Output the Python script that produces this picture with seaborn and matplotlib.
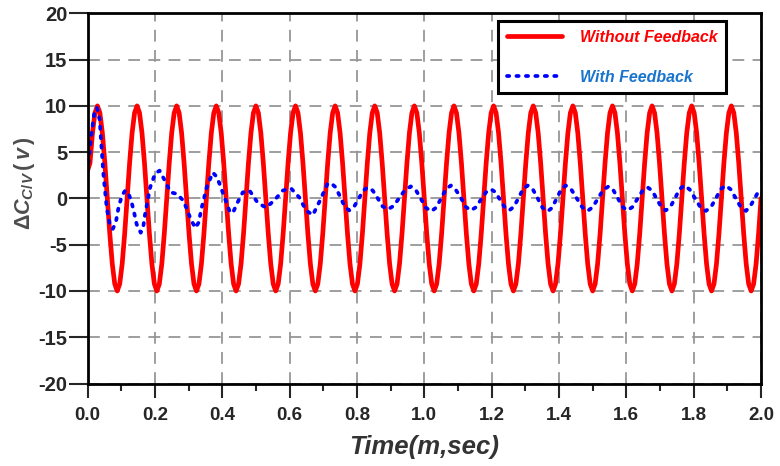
import numpy as np
import pandas as pd
import matplotlib
matplotlib.use("Agg")
import matplotlib.pyplot as plt
import seaborn as sns
from matplotlib.ticker import FormatStrFormatter, MultipleLocator

# Without feedback: one sample every 1/16 of a cycle
red_values = [
    3.0, 3.83, 7.07, 9.24, 10, 9.24, 7.07, 3.83, 0, -3.83, -7.07, -9.24, -10, -9.24, -7.07, -3.83,
    0, 3.83, 7.07, 9.24, 10, 9.24, 7.07, 3.83, 0, -3.83, -7.07, -9.24, -10, -9.24, -7.07, -3.83,
    0, 3.83, 7.07, 9.24, 10, 9.24, 7.07, 3.83, 0, -3.83, -7.07, -9.24, -10, -9.24, -7.07, -3.83,
    0, 3.83, 7.07, 9.24, 10, 9.24, 7.07, 3.83, 0, -3.83, -7.07, -9.24, -10, -9.24, -7.07, -3.83,
    0, 3.83, 7.07, 9.24, 10, 9.24, 7.07, 3.83, 0, -3.83, -7.07, -9.24, -10, -9.24, -7.07, -3.83,
    0, 3.83, 7.07, 9.24, 10, 9.24, 7.07, 3.83, 0, -3.83, -7.07, -9.24, -10, -9.24, -7.07, -3.83,
    0, 3.83, 7.07, 9.24, 10, 9.24, 7.07, 3.83, 0, -3.83, -7.07, -9.24, -10, -9.24, -7.07, -3.83,
    0, 3.83, 7.07, 9.24, 10, 9.24, 7.07, 3.83, 0, -3.83, -7.07, -9.24, -10, -9.24, -7.07, -3.83,
    0, 3.83, 7.07, 9.24, 10, 9.24, 7.07, 3.83, 0, -3.83, -7.07, -9.24, -10, -9.24, -7.07, -3.83,
    0, 3.83, 7.07, 9.24, 10, 9.24, 7.07, 3.83, 0, -3.83, -7.07, -9.24, -10, -9.24, -7.07, -3.83,
    0, 3.83, 7.07, 9.24, 10, 9.24, 7.07, 3.83, 0, -3.83, -7.07, -9.24, -10, -9.24, -7.07, -3.83,
    0, 3.83, 7.07, 9.24, 10, 9.24, 7.07, 3.83, 0, -3.83, -7.07, -9.24, -10, -9.24, -7.07, -3.83,
    0, 3.83, 7.07, 9.24, 10, 9.24, 7.07, 3.83, 0, -3.83, -7.07, -9.24, -10, -9.24, -7.07, -3.83,
    0, 3.83, 7.07, 9.24, 10, 9.24, 7.07, 3.83, 0, -3.83, -7.07, -9.24, -10, -9.24, -7.07, -3.83,
    0, 3.83, 7.07, 9.24, 10, 9.24, 7.07, 3.83, 0, -3.83, -7.07, -9.24, -10, -9.24, -7.07, -3.83,
    0, 3.83, 7.07, 9.24, 10, 9.24, 7.07, 3.83, 0, -3.83, -7.07, -9.24, -10, -9.24, -7.07, -3.83,
    0, 3.83, 7.07, 9.24, 10, 9.24, 7.07, 3.83, 0, -3.83, -7.07, -9.24, -10, -9.24, -7.07, -3.83,
    0,
]
red_time = np.linspace(0.0, 2.0, len(red_values))

# With feedback
blue_time = [
    0.000, 0.010, 0.020, 0.028, 0.036, 0.047, 0.057, 0.066, 0.075, 0.084,
    0.092, 0.102, 0.112, 0.121, 0.130, 0.137, 0.146, 0.158, 0.165, 0.171,
    0.186, 0.201, 0.214, 0.230, 0.247, 0.265, 0.285, 0.305, 0.320, 0.330,
    0.339, 0.354, 0.372, 0.382, 0.392, 0.407, 0.421, 0.431, 0.446, 0.461,
    0.481, 0.505, 0.530, 0.555, 0.580, 0.604, 0.629, 0.649, 0.669, 0.688,
    0.713, 0.723, 0.737, 0.750, 0.764, 0.777, 0.791, 0.805, 0.818, 0.832,
    0.847, 0.862, 0.876, 0.891, 0.908, 0.926, 0.943, 0.960, 0.975, 0.990,
    1.005, 1.020, 1.035, 1.050, 1.064, 1.079, 1.094, 1.109, 1.123, 1.138,
    1.153, 1.168, 1.183, 1.198, 1.212, 1.225, 1.239, 1.252, 1.266, 1.280,
    1.293, 1.307, 1.322, 1.337, 1.351, 1.366, 1.380, 1.393, 1.407, 1.420,
    1.436, 1.453, 1.469, 1.485, 1.500, 1.516, 1.531, 1.547, 1.561, 1.575,
    1.589, 1.603, 1.618, 1.633, 1.648, 1.663, 1.677, 1.690, 1.704, 1.717,
    1.731, 1.745, 1.758, 1.772, 1.788, 1.804, 1.820, 1.836, 1.851, 1.866,
    1.880, 1.895, 1.910, 1.925, 1.940, 1.955, 1.967, 1.978, 1.990, 2.000,
]
blue_values = [
    2.8, 6.5, 9.2, 9.8, 8.5, 2.7, -1.0, -2.8, -3.3, -2.6,
    -1.0, 0.3, 0.85, 0.6, -0.3, -1.3, -2.8, -3.7, -3.2, -1.7,
    1.2, 2.7, 3.0, 1.9, 0.65, 0.5, -0.25, -2.1, -3.2, -2.6,
    -1.0, 1.2, 2.8, 2.4, 1.6, 0.1, -1.3, -1.6, -0.4, 0.65,
    0.85, -0.45, -1.0, -0.2, 0.85, 1.1, 0.1, -1.3, -1.8, -0.4,
    1.6, 1.65, 1.2, 0.2, -0.9, -1.3, -0.93, -0.05, 0.83, 1.2,
    0.85, 0.0, -0.85, -1.2, -0.83, 0.05, 0.93, 1.3, 0.9, -0.05,
    -1.0, -1.4, -1.0, 0.0, 1.0, 1.4, 0.9, 0.05, -0.9, -1.3,
    -0.96, -0.15, 0.66, 1.0, 0.66, -0.15, -0.96, -1.3, -0.9, 0.05,
    1.0, 1.4, 1.0, 0.0, -1.0, -1.4, -1.0, 0.0, 1.0, 1.4,
    1.0, 0.0, -0.95, -1.35, -0.95, 0.0, 0.9, 1.3, 0.92, 0.0,
    -0.92, -1.3, -0.93, -0.05, 0.83, 1.2, 0.83, -0.05, -0.93, -1.3,
    -0.9, 0.05, 1.0, 1.4, 0.97, 0.0, -0.95, -1.35, -0.95, 0.0,
    1.0, 1.4, 0.97, 0.0, -0.95, -1.35, -0.9, -0.2, 0.6, 1.0,
]

x_ticks = [0.0, 0.2, 0.4, 0.6, 0.8, 1.0, 1.2, 1.4, 1.6, 1.8, 2.0]
y_ticks = [-20, -15, -10, -5, 0, 5, 10, 15, 20]
series_names = ["Without Feedback", "With Feedback"]

sns.set_style("ticks")
plt.rcParams["font.family"] = ["Liberation Sans", "DejaVu Sans"]
plt.rcParams["mathtext.fontset"] = "custom"
plt.rcParams["mathtext.rm"] = "Liberation Sans:bold"
plt.rcParams["mathtext.it"] = "Liberation Sans:italic:bold"
plt.rcParams["mathtext.bf"] = "Liberation Sans:bold"
plt.rcParams["lines.scale_dashes"] = False

red_df = pd.DataFrame({"time": red_time, "value": red_values})
blue_df = pd.DataFrame({"time": blue_time, "value": blue_values})

fig = plt.figure(figsize=(7.8, 4.66), dpi=100)
ax = fig.add_axes([0.1122, 0.177, 0.8635, 0.7944])

sns.lineplot(data=red_df, x="time", y="value", ax=ax, color="#ff0000", lw=3.4,
             estimator=None, sort=False, label=series_names[0])
sns.lineplot(data=blue_df, x="time", y="value", ax=ax, color="#0000ff", lw=2.7,
             linestyle=(0, (1.6, 5.2)), dash_capstyle="round",
             estimator=None, sort=False, label=series_names[1])

ax.set_xlim(0, 2.0)
ax.set_ylim(-20, 20)
ax.set_xticks(x_ticks)
ax.set_yticks(y_ticks)
ax.xaxis.set_minor_locator(MultipleLocator(0.1))
ax.xaxis.set_major_formatter(FormatStrFormatter("%.1f"))
ax.yaxis.set_major_formatter(FormatStrFormatter("%d"))

ax.set_axisbelow(True)
ax.grid(True, which="major", color="#969696", lw=1.3, linestyle=(0, (8.5, 6)))

for side in ["left", "right", "top", "bottom"]:
    ax.spines[side].set_visible(True)
    ax.spines[side].set_color("black")
    ax.spines[side].set_linewidth(2.0)

ax.tick_params(axis="x", which="major", direction="out", length=10, width=1.5,
               pad=7, labelsize=13.5)
ax.tick_params(axis="x", which="minor", direction="out", length=5, width=1.5)
ax.tick_params(axis="y", which="major", direction="out", length=13.5, width=1.5,
               pad=1, labelsize=14.5)
for lbl in ax.get_xticklabels() + ax.get_yticklabels():
    lbl.set_fontweight("bold")

ax.set_xlabel("Time(m,sec)", fontsize=18.5, fontstyle="italic", fontweight="bold",
              color="#333333", labelpad=8)
ax.set_ylabel("")
fig.text(25 / 780, 1 - 183 / 466, r"$\Delta C_{C/V}\,(\,v\,)$", rotation=90,
         ha="center", va="center", fontsize=15.5, color="#4d4d4d")

handles, labels = ax.get_legend_handles_labels()
leg = ax.legend(handles, labels, loc="upper left", bbox_to_anchor=(0.6095, 0.979),
                borderaxespad=0, frameon=True, fancybox=False, framealpha=1,
                edgecolor="black", handlelength=3.45, handletextpad=1.12,
                labelspacing=1.55, borderpad=0.55,
                prop={"size": 11.5, "weight": "bold", "style": "italic"})
leg.get_frame().set_linewidth(2.2)
for txt, col in zip(leg.get_texts(), ["#ff0000", "#1874cd"]):
    txt.set_color(col)

fig.savefig("out.png", dpi=100)
